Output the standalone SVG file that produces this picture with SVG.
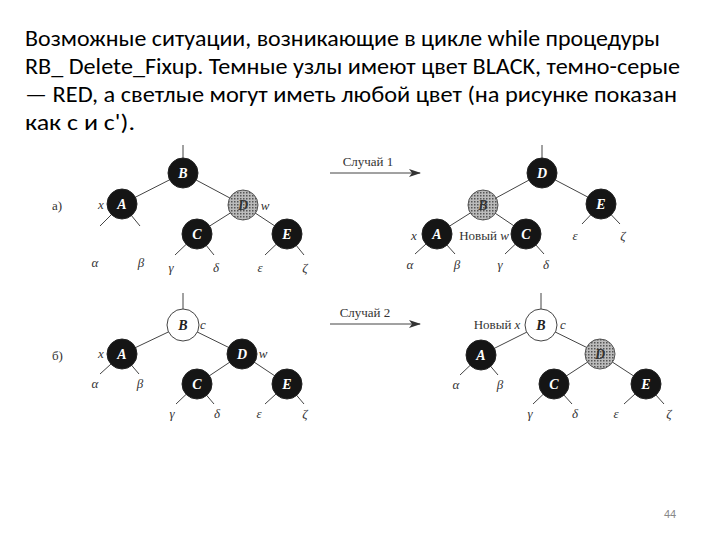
<svg xmlns="http://www.w3.org/2000/svg" width="720" height="540" viewBox="0 0 720 540">
<defs>
<pattern id="dots" width="3" height="3" patternUnits="userSpaceOnUse"><rect width="3" height="3" fill="#bbb"/><rect width="1.5" height="1.5" fill="#555"/></pattern>
<marker id="ar" markerWidth="12" markerHeight="8" refX="11" refY="4" orient="auto" markerUnits="userSpaceOnUse"><path d="M0,0 L12,4 L0,8 L3,4 Z" fill="#333"/></marker>
</defs>
<style>
.t{font-family:Calibri,Carlito,"Open Sans","Liberation Sans",sans-serif;font-size:23px;fill:#000}
.b circle{fill:#151515;stroke:#222}
.g circle{fill:url(#dots);stroke:#555}
.w circle{fill:#fff;stroke:#444}
.n text{font-family:"Liberation Serif",serif;font-style:italic;font-weight:bold;font-size:14px;text-anchor:middle}
.b text{fill:#fff}.g text{fill:#333}.w text{fill:#222}
.l{font-family:"Liberation Serif",serif;font-style:italic;font-size:13px;fill:#333;text-anchor:middle}
.s{font-family:"Liberation Serif",serif;font-size:13px;fill:#333}
#edges line{stroke:#444;stroke-width:1}
</style>
<rect width="720" height="540" fill="#fff"/>
<text class="t" x="25" y="46" textLength="635" lengthAdjust="spacingAndGlyphs">Возможные ситуации, возникающие в цикле while процедуры</text>
<text class="t" x="25" y="74" textLength="655" lengthAdjust="spacingAndGlyphs">RB_ Delete_Fixup. Темные узлы имеют цвет BLACK, темно-серые</text>
<text class="t" x="25" y="102" textLength="652" lengthAdjust="spacingAndGlyphs">— RED, а светлые могут иметь любой цвет (на рисунке показан</text>
<text class="t" x="25" y="130" textLength="110" lengthAdjust="spacingAndGlyphs">как с и с').</text>
<g id="edges">
<line x1="183" y1="145" x2="183" y2="158"/><line x1="183" y1="173" x2="122" y2="204"/><line x1="183" y1="173" x2="243" y2="205"/>
<line x1="122" y1="204" x2="100" y2="226"/><line x1="122" y1="204" x2="140" y2="226"/>
<line x1="243" y1="205" x2="197" y2="234"/><line x1="243" y1="205" x2="287" y2="234"/>
<line x1="197" y1="234" x2="175" y2="255"/><line x1="197" y1="234" x2="214" y2="255"/>
<line x1="287" y1="234" x2="265" y2="255"/><line x1="287" y1="234" x2="304" y2="255"/>
<line x1="330" y1="173" x2="420" y2="173" marker-end="url(#ar)"/>
<line x1="542" y1="145" x2="542" y2="158"/><line x1="542" y1="173" x2="483" y2="205"/><line x1="542" y1="173" x2="601" y2="204"/>
<line x1="483" y1="205" x2="437" y2="234"/><line x1="483" y1="205" x2="526" y2="234"/>
<line x1="601" y1="204" x2="582" y2="224"/><line x1="601" y1="204" x2="620" y2="224"/>
<line x1="437" y1="234" x2="415" y2="254"/><line x1="437" y1="234" x2="455" y2="254"/>
<line x1="526" y1="234" x2="505" y2="254"/><line x1="526" y1="234" x2="544" y2="254"/>
<line x1="183" y1="293" x2="183" y2="309"/><line x1="183" y1="325" x2="122" y2="354"/><line x1="183" y1="325" x2="242" y2="354"/>
<line x1="122" y1="354" x2="100" y2="374"/><line x1="122" y1="354" x2="139" y2="374"/>
<line x1="242" y1="354" x2="197" y2="384"/><line x1="242" y1="354" x2="287" y2="384"/>
<line x1="197" y1="384" x2="176" y2="404"/><line x1="197" y1="384" x2="214" y2="404"/>
<line x1="287" y1="384" x2="265" y2="404"/><line x1="287" y1="384" x2="304" y2="404"/>
<line x1="330" y1="324" x2="420" y2="324" marker-end="url(#ar)"/>
<line x1="541" y1="293" x2="541" y2="309"/><line x1="541" y1="325" x2="481" y2="355"/><line x1="541" y1="325" x2="600" y2="354"/>
<line x1="481" y1="355" x2="460" y2="375"/><line x1="481" y1="355" x2="498" y2="375"/>
<line x1="600" y1="354" x2="554" y2="384"/><line x1="600" y1="354" x2="646" y2="384"/>
<line x1="554" y1="384" x2="533" y2="404"/><line x1="554" y1="384" x2="572" y2="404"/>
<line x1="646" y1="384" x2="624" y2="404"/><line x1="646" y1="384" x2="664" y2="404"/>
</g>
<g id="a_B" class="n b"><circle cx="183" cy="173" r="15"/><text x="183" y="178">B</text></g>
<g id="a_A" class="n b"><circle cx="122" cy="204" r="15"/><text x="122" y="209">A</text></g>
<g id="a_D" class="n g"><circle cx="243" cy="205" r="15"/><text x="243" y="210">D</text></g>
<g id="a_C" class="n b"><circle cx="197" cy="234" r="15"/><text x="197" y="239">C</text></g>
<g id="a_E" class="n b"><circle cx="287" cy="234" r="15"/><text x="287" y="239">E</text></g>
<g id="a2_D" class="n b"><circle cx="542" cy="173" r="15"/><text x="542" y="178">D</text></g>
<g id="a2_B" class="n g"><circle cx="483" cy="205" r="15"/><text x="483" y="210">B</text></g>
<g id="a2_E" class="n b"><circle cx="601" cy="204" r="15"/><text x="601" y="209">E</text></g>
<g id="a2_A" class="n b"><circle cx="437" cy="234" r="15"/><text x="437" y="239">A</text></g>
<g id="a2_C" class="n b"><circle cx="526" cy="234" r="15"/><text x="526" y="239">C</text></g>
<g id="b_B" class="n w"><circle cx="183" cy="325" r="16"/><text x="183" y="330">B</text></g>
<g id="b_A" class="n b"><circle cx="122" cy="354" r="15"/><text x="122" y="359">A</text></g>
<g id="b_D" class="n b"><circle cx="242" cy="354" r="15"/><text x="242" y="359">D</text></g>
<g id="b_C" class="n b"><circle cx="197" cy="384" r="15"/><text x="197" y="389">C</text></g>
<g id="b_E" class="n b"><circle cx="287" cy="384" r="15"/><text x="287" y="389">E</text></g>
<g id="b2_B" class="n w"><circle cx="541" cy="325" r="16"/><text x="541" y="330">B</text></g>
<g id="b2_A" class="n b"><circle cx="481" cy="355" r="15"/><text x="481" y="360">A</text></g>
<g id="b2_D" class="n g"><circle cx="600" cy="354" r="15"/><text x="600" y="359">D</text></g>
<g id="b2_C" class="n b"><circle cx="554" cy="384" r="15"/><text x="554" y="389">C</text></g>
<g id="b2_E" class="n b"><circle cx="646" cy="384" r="15"/><text x="646" y="389">E</text></g>
<g id="labels">
<text class="s" x="52" y="210">а)</text><text class="s" x="52" y="360">б)</text>
<text class="l" x="101" y="209">x</text><text class="l" x="265" y="210">w</text>
<text class="l" x="95" y="267">α</text><text class="l" x="141" y="267">β</text><text class="l" x="171" y="272">γ</text><text class="l" x="216" y="272">δ</text><text class="l" x="260" y="272">ε</text><text class="l" x="305" y="272">ζ</text>
<text class="s" x="368" y="166" text-anchor="middle">Случай 1</text>
<text class="l" x="414" y="240">x</text><text class="s" x="484" y="240" text-anchor="middle">Новый <tspan font-style="italic">w</tspan></text>
<text class="l" x="410" y="269">α</text><text class="l" x="457" y="269">β</text><text class="l" x="500" y="269">γ</text><text class="l" x="546" y="269">δ</text><text class="l" x="575" y="240">ε</text><text class="l" x="623" y="240">ζ</text>
<text class="l" x="203" y="329">c</text><text class="l" x="101" y="358">x</text><text class="l" x="263" y="358">w</text>
<text class="l" x="95" y="388">α</text><text class="l" x="140" y="388">β</text><text class="l" x="172" y="418">γ</text><text class="l" x="217" y="418">δ</text><text class="l" x="259" y="418">ε</text><text class="l" x="305" y="418">ζ</text>
<text class="s" x="365" y="317" text-anchor="middle">Случай 2</text>
<text class="s" x="497" y="329" text-anchor="middle">Новый <tspan font-style="italic">x</tspan></text><text class="l" x="563" y="329">c</text>
<text class="l" x="456" y="389">α</text><text class="l" x="500" y="389">β</text><text class="l" x="530" y="418">γ</text><text class="l" x="575" y="418">δ</text><text class="l" x="616" y="418">ε</text><text class="l" x="669" y="418">ζ</text>
</g>
<text x="670" y="518" font-family="Liberation Sans,sans-serif" font-size="11" fill="#888" text-anchor="middle">44</text>
</svg>
